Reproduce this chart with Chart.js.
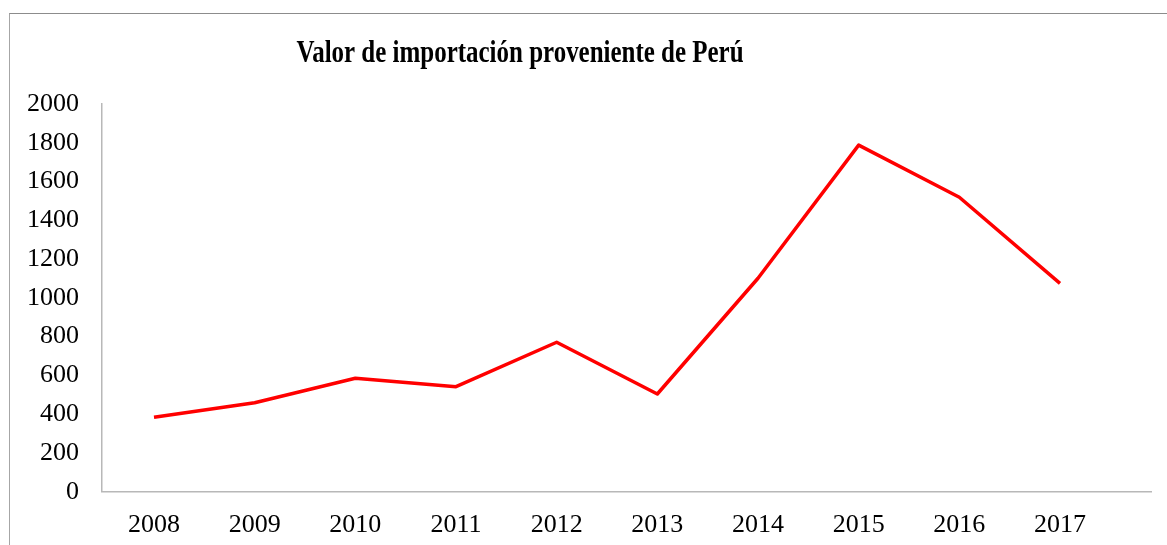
<!DOCTYPE html>
<html>
<head>
<meta charset="utf-8">
<script src="https://cdn.jsdelivr.net/npm/chart.js@4"></script>
<style>
  html, body { margin: 0; padding: 0; background: #fff; }
  body { width: 1167px; height: 545px; position: relative; overflow: hidden; }
  #frame { position: absolute; left: 9px; top: 13px; width: 1200px; height: 600px; border-left: 1px solid #a6a6a6; border-top: 1px solid #8c8c8c; }
  #wrap { position: absolute; left: 0; top: 0; width: 1167px; height: 545px; }
</style>
</head>
<body>
<div id="frame"></div>
<div id="wrap"><canvas id="c" width="1167" height="545"></canvas></div>
<script>
const titleText = 'Valor de importación proveniente de Perú';
const years = [2008, 2009, 2010, 2011, 2012, 2013, 2014, 2015, 2016, 2017];
const values = [384, 459, 585, 542, 771, 504, 1101, 1788, 1519, 1075];
const yTicks = [0, 200, 400, 600, 800, 1000, 1200, 1400, 1600, 1800, 2000];

const font = 'Liberation Serif, Times New Roman, serif';

// Title drawn as canvas text, slightly condensed like the reference
const condensedTitle = {
  id: 'condensedTitle',
  afterDraw(chart) {
    const ctx = chart.ctx;
    ctx.save();
    ctx.font = 'bold 32px ' + font;
    ctx.fillStyle = '#000';
    ctx.textAlign = 'center';
    ctx.textBaseline = 'alphabetic';
    const sx = 0.78;
    ctx.translate(520, 62.3);
    ctx.scale(sx, 1);
    ctx.fillText(titleText, 0, 0);
    ctx.restore();
  }
};

new Chart(document.getElementById('c'), {
  type: 'line',
  data: {
    labels: years,
    datasets: [{
      data: values,
      borderColor: '#ff0000',
      borderWidth: 3.5,
      pointRadius: 0,
      tension: 0,
      fill: false,
      borderJoinStyle: 'round'
    }]
  },
  options: {
    responsive: false,
    animation: false,
    layout: { padding: { left: 0, right: 16, top: 104, bottom: 0 } },
    plugins: {
      legend: { display: false },
      tooltip: { enabled: false },
      title: { display: false }
    },
    scales: {
      x: {
        type: 'linear',
        min: years[0] - 0.5165,
        max: years[years.length - 1] + 0.904,
        afterBuildTicks: s => { s.ticks = years.map(v => ({ value: v })); },
        afterFit: s => { s.height = 53.3; },
        grid: { display: false, drawTicks: false },
        border: { display: true, color: '#b8b8b8', width: 1.5 },
        ticks: {
          color: '#000',
          padding: 18,
          maxRotation: 0,
          autoSkip: false,
          font: { family: font, size: 26 },
          callback: v => String(v)
        }
      },
      y: {
        min: 0,
        max: 2000,
        afterBuildTicks: s => { s.ticks = yTicks.map(v => ({ value: v })); },
        afterFit: s => { s.width = 102; },
        grid: { display: false, drawTicks: false },
        border: { display: true, color: '#b8b8b8', width: 1.5 },
        ticks: {
          color: '#000',
          padding: 23,
          font: { family: font, size: 26 },
          callback: v => String(v)
        }
      }
    }
  },
  plugins: [condensedTitle]
});
</script>
</body>
</html>
